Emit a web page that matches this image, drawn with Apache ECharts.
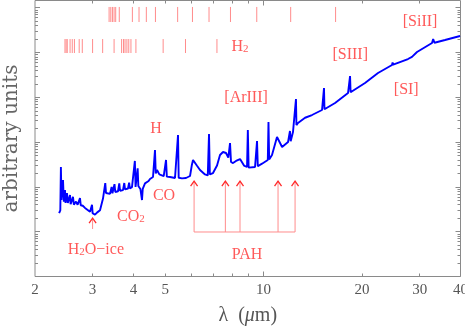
<!DOCTYPE html>
<html>
<head>
<meta charset="utf-8">
<script src="https://cdn.jsdelivr.net/npm/echarts@6.0.0/dist/echarts.min.js"></script>
<style>
  html, body { margin: 0; padding: 0; background: #fff; }
  #chart { width: 465px; height: 327px; }
</style>
</head>
<body>
<div id="chart"></div>
<script>
// spectrum: wavelength (micron) and flux (arbitrary units)
const wavelength = [
  2.37, 2.39, 2.40, 2.41, 2.436, 2.45, 2.47, 2.48, 2.505, 2.52, 2.559, 2.57, 2.613, 2.63, 2.669, 2.70,
  2.745, 2.76, 2.80, 2.844, 2.884, 2.946, 2.988, 3.00, 3.051, 3.10, 3.161, 3.228, 3.28, 3.297, 3.391,
  3.43, 3.45, 3.464, 3.50, 3.52, 3.588, 3.62, 3.64, 3.716, 3.75, 3.77, 3.849, 3.88, 3.90, 3.959, 4.00,
  4.04, 4.06, 4.12, 4.14, 4.20, 4.248, 4.27, 4.339, 4.45, 4.494, 4.59, 4.655, 4.68, 4.722, 4.80, 4.822,
  4.95, 5.031, 5.06, 5.174, 5.359, 5.474, 5.50, 5.63, 5.791, 5.957, 6.03, 6.084, 6.17, 6.25, 6.391,
  6.62, 6.75, 6.809, 6.85, 7.004, 7.204, 7.357, 7.515, 7.675, 7.80, 7.895, 7.95, 8.063, 8.235, 8.471,
  8.712, 8.899, 8.95, 9.00, 9.089, 9.415, 9.548, 9.60, 9.89, 10.30, 10.35, 10.40, 10.61, 10.99, 11.39,
  11.88, 12.04, 12.10, 12.30, 12.56, 12.60, 12.74, 13.39, 14.06, 15.09, 15.30, 15.35, 16.54, 18.12,
  18.38, 18.45, 20.42, 22.38, 24.70, 24.80, 24.90, 27.64, 28.43, 29.45, 32.73, 33.00, 33.30, 35.87, 39.87
];
const flux = [
  26, 30, 278, 51, 143, 47, 85, 44, 73, 44, 66, 41, 60, 40, 47, 40,
  56, 39, 38, 34, 31, 28, 40, 26, 24, 27, 30, 55, 122, 73, 70,
  100, 72, 76, 115, 77, 80, 120, 82, 85, 122, 88, 92, 125, 93, 99, 105,
  380, 100, 260, 105, 90, 51, 90, 120, 135, 150, 166, 666, 200, 238, 190, 184,
  175, 400, 170, 166, 158, 1440, 160, 155, 158, 175, 300, 400, 442, 300, 238,
  190, 180, 1517, 190, 204, 300, 515, 601, 571, 450, 955, 360, 341, 380, 419,
  300, 278, 1862, 270, 265, 278, 1059, 290, 330, 398, 2812, 410, 515, 1300, 778,
  1005, 1770, 1050, 1680, 9160, 2400, 2670, 3500, 4027, 5212, 16140, 5400, 7460, 12470,
  29850, 13000, 20840, 34830, 52600, 60000, 53500, 71600, 80000, 102600, 163000, 200000, 165000, 190000, 233500
];

// line identifications marked at the top (two rows)
const lineRow1 = [3.37, 3.41, 3.45, 3.49, 3.53, 3.62, 3.97, 4.16, 4.38, 4.67, 5.46, 6.06, 6.81, 7.92, 9.53, 12.1, 16.6];
const lineRow2 = [2.47, 2.49, 2.51, 2.56, 2.60, 2.64, 2.73, 2.79, 3.00, 3.22, 3.49, 3.68, 3.73, 3.77, 3.82, 3.87, 3.93, 4.07, 4.93, 5.77, 7.20];

// PAH bands and the ice band
const pahBands = [6.13, 7.64, 8.47, 11.07, 12.48];
const iceBands = [3.0];

// text labels
const labelText = ['[SiII]', 'H{s|2}', '[SIII]', '[SI]', '[ArIII]', 'H', 'CO', 'CO{s|2}', 'H{s|2}O\u2212ice', 'PAH'];
const labelWave = [30.1, 8.47, 18.4, 27.3, 8.84, 4.69, 4.96, 3.93, 3.07, 8.90];
const labelFlux = [4.8e5, 1.33e5, 8.8e4, 14550, 9640, 1960, 62.6, 21.3, 3.9, 3.0];

// axis ticks
const xTickLabels = [2, 3, 4, 5, 10, 20, 30, 40];
const xMajorTicks = [10];
const xMinorTicks = [3, 4, 5, 6, 7, 8, 9, 20, 30];
const yDecades = [1, 10, 100, 1e3, 1e4, 1e5, 1e6];
const yMantissas = [2, 3, 4, 5, 6, 7, 8, 9];

const X_MIN = 2, X_MAX = 40, Y_MIN = 1, Y_MAX = 1.45e6;
const yMinorTicks = [];
yDecades.forEach(d => yMantissas.forEach(m => { if (m * d < Y_MAX) yMinorTicks.push(m * d); }));

const RED = '#ff5a5a';
const PINK = '#ff8c8c';
const AXIS = '#8a8a8a';
const SERIF = 'Liberation Serif';

function xAxisDef(pos, ticks, len, extra) {
  return Object.assign({
    type: 'log', logBase: 10, min: X_MIN, max: X_MAX, gridIndex: 0, position: pos,
    axisLine: { show: false }, splitLine: { show: false },
    axisTick: { show: true, inside: true, length: len, customValues: ticks, lineStyle: { color: AXIS, width: 1 } },
    axisLabel: { show: false }
  }, extra || {});
}
function yAxisDef(pos, ticks, len, extra) {
  return Object.assign({
    type: 'log', logBase: 10, min: Y_MIN, max: Y_MAX, gridIndex: 0, position: pos,
    axisLine: { show: false }, splitLine: { show: false },
    axisTick: { show: true, inside: true, length: len, customValues: ticks, lineStyle: { color: AXIS, width: 1 } },
    axisLabel: { show: false }
  }, extra || {});
}

const chart = echarts.init(document.getElementById('chart'), null, { renderer: 'canvas' });

const option = {
  animation: false,
  backgroundColor: '#fff',
  grid: {
    left: 35, right: 4.5, top: 0.5, bottom: 50.5,
    show: true, borderColor: AXIS, borderWidth: 1,
    containLabel: false, outerBoundsMode: 'none'
  },
  xAxis: [
    xAxisDef('bottom', xMajorTicks, 5, {
      axisLabel: {
        show: true, customValues: xTickLabels, margin: 6,
        color: '#555', fontFamily: SERIF, fontSize: 15
      },
      name: '\u03bb  ({i|\u03bc}m)',
      nameLocation: 'middle', nameGap: 29,
      nameTextStyle: {
        color: '#555', fontFamily: SERIF, fontSize: 20,
        rich: { i: { fontStyle: 'italic', fontFamily: SERIF, fontSize: 20, color: '#555' } }
      }
    }),
    xAxisDef('bottom', xMinorTicks, 3),
    xAxisDef('top', xMajorTicks, 5),
    xAxisDef('top', xMinorTicks, 3)
  ],
  yAxis: [
    yAxisDef('left', yDecades, 5, {
      name: 'arbitrary units',
      nameLocation: 'middle', nameGap: 13, nameRotate: 90,
      nameTextStyle: { color: '#666', fontFamily: 'DejaVu Serif', fontSize: 20 }
    }),
    yAxisDef('left', yMinorTicks, 3),
    yAxisDef('right', yDecades, 5),
    yAxisDef('right', yMinorTicks, 3)
  ],
  series: [
    {
      type: 'line',
      xAxisIndex: 0, yAxisIndex: 0,
      data: wavelength.map((w, i) => [w, flux[i]]),
      showSymbol: false,
      lineStyle: { color: '#0000ff', width: 1.9 },
      z: 3
    },
    {
      // identification ticks at the top
      type: 'custom', xAxisIndex: 0, yAxisIndex: 0, silent: true,
      data: lineRow1.map(w => [w, 1]).concat(lineRow2.map(w => [w, 2])),
      renderItem: function (params, api) {
        const w = api.value(0);
        const band = api.value(1) === 1 ? [4.8e5, 1.04e6] : [9.75e4, 2.0e5];
        const p0 = api.coord([w, band[0]]);
        const p1 = api.coord([w, band[1]]);
        return {
          type: 'line',
          shape: { x1: p0[0], y1: p0[1], x2: p1[0], y2: p1[1] },
          style: { stroke: PINK, lineWidth: 1 }
        };
      }
    },
    {
      // PAH bracket with arrows, and the ice arrow
      type: 'custom', xAxisIndex: 0, yAxisIndex: 0, silent: true,
      data: pahBands.map(w => [w, 1]).concat(iceBands.map(w => [w, 2])),
      renderItem: function (params, api) {
        const w = api.value(0);
        const ends = api.value(1) === 1 ? [9.85, 135] : [11.5, 20.2];
        const b = api.coord([w, ends[0]]);
        const t = api.coord([w, ends[1]]);
        const children = [
          { type: 'line', shape: { x1: b[0], y1: b[1], x2: t[0], y2: t[1] }, style: { stroke: PINK, lineWidth: 1 } },
          { type: 'polyline', shape: { points: [[t[0] - 3.5, t[1] + 5], [t[0], t[1]], [t[0] + 3.5, t[1] + 5]] },
            style: { stroke: '#ff2a2a', lineWidth: 1.3, fill: null } }
        ];
        if (params.dataIndex === 0) {
          const e = api.coord([pahBands[pahBands.length - 1], ends[0]]);
          children.push({ type: 'line', shape: { x1: b[0], y1: b[1], x2: e[0], y2: e[1] }, style: { stroke: PINK, lineWidth: 1 } });
        }
        return { type: 'group', children: children };
      }
    },
    {
      // text labels
      type: 'custom', xAxisIndex: 0, yAxisIndex: 0, silent: true,
      data: labelWave.map((w, i) => [w, labelFlux[i]]),
      renderItem: function (params, api) {
        const p = api.coord([api.value(0), api.value(1)]);
        return {
          type: 'text', x: p[0], y: p[1],
          style: {
            text: labelText[params.dataIndex],
            fill: RED, fontFamily: SERIF, fontSize: 16, lineHeight: 16,
            align: 'center', verticalAlign: 'middle',
            rich: { s: { fontSize: 11, lineHeight: 6, verticalAlign: 'bottom', fill: RED, fontFamily: SERIF } }
          }
        };
      }
    }
  ]
};

chart.setOption(option);
</script>
</body>
</html>
